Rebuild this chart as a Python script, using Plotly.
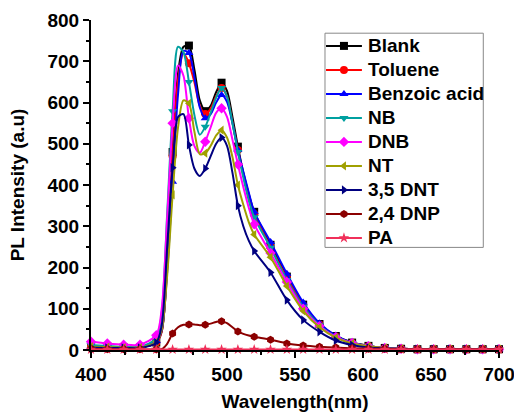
import plotly.graph_objects as go

wavelength = [400, 412, 424, 436, 448, 452, 456, 460, 464, 468, 472, 476, 480, 484, 488, 492,
              496, 500, 504, 508, 512, 516, 520, 532, 544, 556, 568, 580, 592, 604, 616, 628,
              640, 652, 664, 676, 688, 700]

blank = [10, 8, 6, 6, 18, 45, 210, 480, 670, 735, 738, 680, 605, 579, 592, 625,
         648, 628, 565, 493, 430, 378, 335, 255, 178, 110, 63, 34, 18, 10, 5, 3,
         2, 2, 2, 2, 2, 2]
toluene = [9, 8, 6, 6, 18, 45, 200, 470, 655, 720, 695, 650, 592, 572, 585, 615,
           635, 615, 552, 485, 425, 372, 330, 250, 175, 108, 62, 33, 17, 9, 5, 3,
           2, 2, 2, 2, 2, 2]
benzoic_acid = [8, 7, 6, 6, 22, 48, 190, 408, 620, 725, 720, 662, 588, 562, 572, 600,
                618, 602, 550, 485, 432, 382, 335, 262, 185, 115, 65, 35, 18, 10, 5, 3,
                2, 2, 2, 2, 2, 2]
nb = [12, 10, 8, 8, 28, 90, 330, 579, 735, 722, 650, 570, 522, 541, 575, 612,
      635, 615, 550, 480, 418, 362, 322, 248, 170, 105, 60, 32, 17, 9, 5, 3,
      2, 2, 2, 2, 2, 2]
dnb = [20, 16, 13, 13, 36, 100, 320, 550, 690, 665, 562, 495, 478, 505, 540, 575,
       586, 565, 510, 450, 395, 345, 305, 235, 165, 100, 58, 31, 17, 9, 5, 3,
       2, 2, 2, 2, 2, 2]
nt = [8, 7, 6, 6, 20, 50, 180, 376, 540, 605, 598, 530, 475, 477, 495, 520,
      533, 515, 468, 400, 352, 310, 280, 225, 155, 95, 55, 30, 16, 9, 5, 3,
      2, 2, 2, 2, 2, 2]
dnt_35 = [6, 5, 5, 5, 18, 60, 250, 442, 565, 572, 497, 440, 422, 440, 470, 500,
          515, 495, 430, 350, 300, 265, 240, 188, 121, 73, 44, 23, 12, 6, 4, 3,
          2, 2, 2, 2, 2, 2]
dnp_24 = [3, 2, 2, 2, 1, 2, 15, 40, 55, 61, 62, 62, 60, 61, 64, 68,
          70, 65, 55, 45, 39, 35, 32, 25, 16, 11, 8, 6, 4, 3, 3, 2,
          2, 2, 2, 2, 2, 2]
pa = [1] * len(wavelength)

series_names = ["Blank", "Toluene", "Benzoic acid", "NB", "DNB", "NT", "3,5 DNT", "2,4 DNP", "PA"]
series_values = [blank, toluene, benzoic_acid, nb, dnb, nt, dnt_35, dnp_24, pa]
colors = ["#000000", "#FF0000", "#0000FF", "#00A0A0", "#FF00FF", "#A0A000", "#000080", "#8B0000", "#F0305A"]
symbols = ["square", "circle", "triangle-up", "triangle-down", "diamond", "triangle-left",
           "triangle-right", "hexagon", "star"]

FONT = "Liberation Sans, Arial, sans-serif"
MS = 8

fig = go.Figure()
for name, vals, col, sym in zip(series_names, series_values, colors, symbols):
    fig.add_trace(go.Scatter(
        x=wavelength, y=vals, mode="lines", name=name,
        line=dict(color=col, width=2, shape="spline", smoothing=0.8),
        showlegend=False, hoverinfo="skip"))
    mx = [w for w in wavelength if (w - 400) % 12 == 0]
    my = [v for w, v in zip(wavelength, vals) if (w - 400) % 12 == 0]
    fig.add_trace(go.Scatter(
        x=mx, y=my, mode="markers", name=name,
        marker=dict(color=col, size=MS, symbol=sym, line=dict(width=0)),
        showlegend=False, cliponaxis=False))

# ---- hand-drawn legend (box, line samples, symbols, labels) ----
leg_x0, leg_x1 = 0.5735, 0.9615
leg_y1 = 0.96
row_h = 24 / 330.0
first_row = leg_y1 - 12.7 / 330.0
row_y = [first_row - i * row_h for i in range(len(series_names))]
leg_y0 = row_y[-1] - 9.5 / 330.0
samp_x0, samp_x1 = 0.576, 0.664
fig.add_shape(type="rect", xref="paper", yref="paper",
              x0=leg_x0, x1=leg_x1, y0=leg_y0, y1=leg_y1,
              line=dict(color="#888888", width=1), fillcolor="white", layer="below")
for name, col, yy in zip(series_names, colors, row_y):
    fig.add_shape(type="line", xref="paper", yref="paper",
                  x0=samp_x0, x1=samp_x1, y0=yy, y1=yy,
                  line=dict(color=col, width=2), layer="below")
    fig.add_annotation(xref="paper", yref="paper", x=0.674, y=yy,
                       xanchor="left", yanchor="middle", showarrow=False, text=name,
                       font=dict(family=FONT, size=19, color="black", weight="bold"))
fig.add_trace(go.Scatter(
    x=[(samp_x0 + samp_x1) / 2] * len(series_names), y=row_y,
    xaxis="x2", yaxis="y2", mode="markers", showlegend=False, hoverinfo="skip",
    marker=dict(color=colors, symbol=symbols, size=MS, line=dict(width=0))))

fig.update_layout(
    width=514, height=412,
    margin=dict(l=91, r=15, t=20, b=62),
    paper_bgcolor="white", plot_bgcolor="white",
    font=dict(family=FONT, size=19, color="black", weight="bold"),
    showlegend=False,
    xaxis=dict(
        range=[400, 700], tickvals=[400, 450, 500, 550, 600, 650, 700],
        automargin=False, ticklabeloverflow="allow",
        showline=True, linecolor="black", linewidth=2, mirror=False,
        ticks="outside", ticklen=6, tickwidth=2, tickcolor="black",
        minor=dict(ticks="outside", ticklen=3, tickwidth=2, dtick=25, tickcolor="black"),
        showgrid=False, zeroline=False,
        tickfont=dict(family=FONT, size=19, weight="bold"),
        title=dict(text="Wavelength(nm)", standoff=12,
                   font=dict(family=FONT, size=19, weight="bold"))),
    yaxis=dict(
        range=[0, 800], tickvals=[0, 100, 200, 300, 400, 500, 600, 700, 800],
        automargin=False, ticklabeloverflow="allow",
        showline=True, linecolor="black", linewidth=2, mirror=False,
        ticks="outside", ticklen=6, tickwidth=2, tickcolor="black",
        minor=dict(ticks="outside", ticklen=3, tickwidth=2, dtick=50, tickcolor="black"),
        showgrid=False, zeroline=False,
        tickfont=dict(family=FONT, size=19, weight="bold"),
        title=dict(text="PL Intensity (a.u)", standoff=18,
                   font=dict(family=FONT, size=19, weight="bold"))),
    xaxis2=dict(overlaying="x", range=[0, 1], visible=False, fixedrange=True),
    yaxis2=dict(overlaying="y", range=[0, 1], visible=False, fixedrange=True),
)

fig.write_html("out.html")
